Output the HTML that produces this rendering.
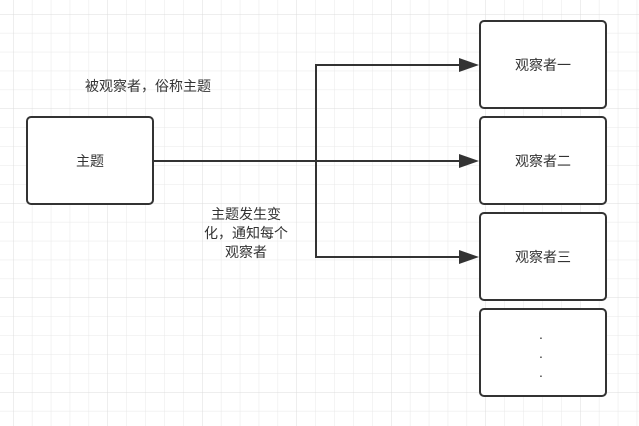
<!DOCTYPE html>
<html><head><meta charset="utf-8"><style>
html,body{margin:0;padding:0;background:#fff}
body{width:639px;height:426px;overflow:hidden;position:relative;font-family:"Liberation Sans","Noto Sans CJK SC",sans-serif}
</style></head><body>
<svg width="639" height="426" xmlns="http://www.w3.org/2000/svg" style="position:absolute;left:0;top:0">
<defs>
<pattern id="g" x="13" y="14" width="18.9" height="18.9" patternUnits="userSpaceOnUse">
<path d="M0 0H18.9M0 0V18.9" stroke="#e8e8e8" stroke-width="1" fill="none"/>
</pattern>
<pattern id="G" x="13" y="14" width="94.5" height="94.5" patternUnits="userSpaceOnUse">
<path d="M0 0H94.5M0 0V94.5" stroke="#dcdcdc" stroke-width="1" fill="none"/>
</pattern>
</defs>
<rect width="639" height="426" fill="url(#g)"/>
<rect width="639" height="426" fill="url(#G)"/>
<g fill="#fff" stroke="#333" stroke-width="2">
<rect x="27" y="117" width="126" height="87" rx="4"/>
<rect x="480" y="21" width="126" height="87" rx="4"/>
<rect x="480" y="117" width="126" height="87" rx="4"/>
<rect x="480" y="213" width="126" height="87" rx="4"/>
<rect x="480" y="309" width="126" height="87" rx="4"/>
</g>
<g stroke="#333" stroke-width="2" fill="none">
<path d="M153 161H462"/>
<path d="M316 161V65H462"/>
<path d="M316 161V257H462"/>
</g>
<g fill="#333">
<path d="M479 65L459 58L459 72Z"/>
<path d="M479 161L459 154L459 168Z"/>
<path d="M479 257L459 250L459 264Z"/>
</g>
<g font-size="14" fill="#333" text-anchor="middle" font-family="Liberation Sans,Noto Sans CJK SC,sans-serif">
<text x="85" y="91" text-anchor="start" x="12">被观察者，俗称主题</text>
<text x="90" y="166">主题</text>
<text x="543" y="70">观察者一</text>
<text x="543" y="166">观察者二</text>
<text x="543" y="262">观察者三</text>
<text x="246" y="219">主题发生变</text>
<text x="246" y="238">化，通知每个</text>
<text x="246" y="257">观察者</text>
<text x="541" y="342">·</text>
<text x="541" y="361">·</text>
<text x="541" y="380">·</text>
</g>
</svg>
</body></html>
